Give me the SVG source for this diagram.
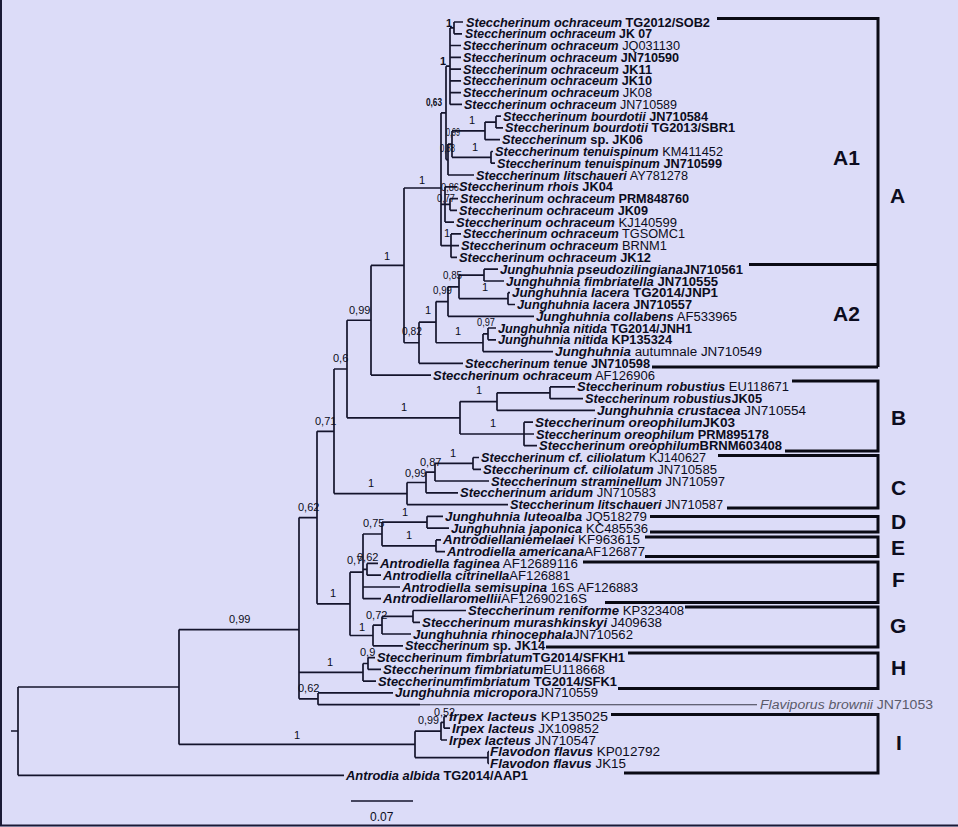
<svg xmlns="http://www.w3.org/2000/svg" width="958" height="827" viewBox="0 0 958 827">
<style>
.bg{fill:#dcdcf8}
.tr{fill:none;stroke:#14142c;stroke-width:1.7}
.fl{fill:none;stroke:#3a3a4a;stroke-width:1.1}
.br{fill:none;stroke:#0a0a14;stroke-width:3}
.fr{fill:none;stroke:#1a1a36;stroke-width:2}
text{font-family:"Liberation Sans",Arial,sans-serif;fill:#0c0c20}
.t{font-size:12px}
.i{font-style:italic;font-weight:bold}
.b{font-weight:bold}
.n{font-weight:normal;font-style:normal}
.g{fill:#5a5a6a}
.gi{font-style:italic;fill:#5a5a6a}
.s{font-size:11px}
.sb{font-size:11px;font-weight:bold}
.cl{font-size:21px;font-weight:bold}
.sc{font-size:12px}
</style>
<rect class="bg" x="0" y="0" width="958" height="827"/>
<path class="fr" d="M1,0 V826 M0,825.5 H958"/>
<g id="connectors">
<path class="tr" d="M11,731 H18 M18,687 V775.3 M18,775.3 H344 M18,687 H179 M179,629.6 V744.4 M179,629.6 H299
M179,744.4 H415 M415,731.2 V757.6 M415,731.2 H441 M441,722.3 V740 M441,740 H447 M441,722.3 H444 M444,716.4 V728.2 M444,716.4 H447 M444,728.2 H450 M415,757.6 H488 M488,751.7 V763.5 M488,751.7 H489 M488,763.5 H489
M299,517.6 V698.8 M299,517.6 H317 M317,431.3 V603.85 M317,431.3 H334 M334,369 V493.55 M334,369 H347 M347,320.25 V417.8 M347,320.25 H371
M371,265.4 V375.1 M371,265.4 H404 M371,375.1 H431 M404,188 V342.75
M404,188 H441 M441,112.9 V245.65 M441,112.9 H446 M446,66.2 V159.6 M446,66.2 H450 M450,27.9 V104.4 M450,27.9 H454 M454,22 V33.8 M454,22 H463 M454,33.8 H462
M450,45.5 H461 M450,57.3 H461 M450,69.1 H461 M450,80.9 H461 M450,92.6 H461 M450,104.4 H462
M446,159.6 H448 M448,144.1 V175 M448,175 H474 M448,144.1 H452 M452,130.9 V157.35 M452,130.9 H485 M485,122.05 V139.7 M485,139.7 H500 M485,122.05 H496 M496,116.2 V127.9 M496,116.2 H501 M496,127.9 H503 M452,157.35 H491 M491,151.5 V163.2 M491,151.5 H493 M491,163.2 H495
M441,204.45 H445 M445,186.8 V222.1 M445,186.8 H457 M445,222.1 H454 M445,204.45 H450 M450,198.6 V210.3 M450,198.6 H458 M450,210.3 H457
M441,245.65 H451 M451,233.9 V257.4 M451,233.9 H461 M451,245.6 H459 M451,257.4 H457
M404,342.75 H419 M419,322.2 V363.3 M419,363.3 H463 M419,322.2 H436 M436,301.6 V342.75 M436,301.6 H448 M448,286.85 V316.3 M448,316.3 H534 M448,286.85 H459 M459,275.1 V298.6 M459,275.1 H484 M484,269.2 V281 M484,269.2 H498 M484,281 H504 M459,298.6 H508 M508,292.7 V304.5 M508,292.7 H510 M508,304.5 H515
M436,342.75 H483 M483,333.9 V351.6 M483,351.6 H553 M483,333.9 H488 M488,328 V339.8 M488,328 H496 M488,339.8 H496
M347,417.8 H460 M460,401.6 V434 M460,401.6 H497 M497,392.8 V410.4 M497,410.4 H595 M497,392.8 H550 M550,386.9 V398.7 M550,386.9 H575 M550,398.7 H583 M460,434 H524 M524,422.2 V445.7 M524,422.2 H533 M524,434 H534 M524,445.7 H537
M334,493.55 H407 M407,482.5 V504.6 M407,504.6 H508 M407,482.5 H426 M426,472.2 V492.8 M426,492.8 H458 M426,472.2 H435 M435,463.4 V481 M435,481 H489 M435,463.4 H473 M473,457.5 V469.3 M473,457.5 H479 M473,469.3 H481
M317,603.85 H350 M350,572.2 V635.5 M350,572.2 H363 M363,534 V598.7 M363,534 H382 M382,522.2 V545.8 M382,522.2 H427 M427,516.3 V528.1 M427,516.3 H443 M427,528.1 H449 M382,545.8 H436 M436,539.9 V551.7 M436,539.9 H441 M436,551.7 H445
M363,569.3 H367 M367,563.4 V575.2 M367,563.4 H378 M367,575.2 H381 M363,587 H400 M363,598.7 H381
M350,635.5 H373 M373,625.2 V645.8 M373,645.8 H403 M373,625.2 H382 M382,616.4 V634 M382,634 H411 M382,616.4 H413 M413,610.5 V622.3 M413,610.5 H466 M413,622.3 H420
M299,672.3 H363 M363,663.5 V681.1 M363,681.1 H376 M363,663.5 H368 M368,657.6 V669.4 M368,657.6 H375 M368,669.4 H381
M299,698.8 H318 M318,692.9 V704.7 M318,692.9 H393 M318,704.7 H420
M351,801 H413"/>
<path class="fl" d="M420,704.7 H757"/>
<path class="br" d="M717,18.5 H878 V367 M749,264.5 H878 M652,367 H878
M792,381 H878 V451 H785
M718,455.5 H878 V508 H727
M650,516.5 H878 V532 H650
M645,537 H878 V556.5 H645
M583,562 H878 V602.5 H605
M685,607 H878 V647 H546
M628,653 H878 V688.5 H618
M611,714.5 H878 V773 H624"/>
</g>
<g id="support" xml:space="preserve">
<text class="sb" x="446" y="27">1</text>
<text class="sb" x="440" y="65">1</text>
<text class="sb" x="426" y="106" textLength="16" lengthAdjust="spacingAndGlyphs">0,63</text>
<text class="s" x="446" y="136" textLength="14" lengthAdjust="spacingAndGlyphs">0,99</text>
<text class="s" x="440" y="152" textLength="15" lengthAdjust="spacingAndGlyphs">0,88</text>
<text class="s" x="469" y="124">1</text>
<text class="s" x="472" y="151">1</text>
<text class="s" x="419" y="184">1</text>
<text class="s" x="441" y="191" textLength="18" lengthAdjust="spacingAndGlyphs">0,86</text>
<text class="s" x="437" y="202" textLength="18" lengthAdjust="spacingAndGlyphs">0,77</text>
<text class="s" x="444" y="237">1</text>
<text class="s" x="384" y="260">1</text>
<text class="s" x="443" y="279" textLength="19" lengthAdjust="spacingAndGlyphs">0,85</text>
<text class="s" x="433" y="294" textLength="19" lengthAdjust="spacingAndGlyphs">0,99</text>
<text class="s" x="482" y="291">1</text>
<text class="s" x="425" y="314">1</text>
<text class="s" x="477" y="326" textLength="18" lengthAdjust="spacingAndGlyphs">0,97</text>
<text class="s" x="455" y="335">1</text>
<text class="s" x="402" y="335" textLength="20" lengthAdjust="spacingAndGlyphs">0,82</text>
<text class="s" x="349" y="314">0,99</text>
<text class="s" x="333" y="362">0,6</text>
<text class="s" x="476" y="394">1</text>
<text class="s" x="401" y="411">1</text>
<text class="s" x="490" y="427">1</text>
<text class="s" x="315" y="425">0,71</text>
<text class="s" x="450" y="457">1</text>
<text class="s" x="420" y="466">0,87</text>
<text class="s" x="405" y="477">0,99</text>
<text class="s" x="368" y="487">1</text>
<text class="s" x="298" y="511">0,62</text>
<text class="s" x="402" y="516">1</text>
<text class="s" x="363" y="527">0,75</text>
<text class="s" x="406" y="539">1</text>
<text class="s" x="347" y="564">0,7</text>
<text class="s" x="357" y="561">0,62</text>
<text class="s" x="330" y="597">1</text>
<text class="s" x="366" y="619">0,72</text>
<text class="s" x="359" y="631">1</text>
<text class="s" x="360" y="656">0,9</text>
<text class="s" x="327" y="666">1</text>
<text class="s" x="298" y="692">0,62</text>
<text class="s" x="229" y="623">0,99</text>
<text class="s" x="294" y="739">1</text>
<text class="s" x="418" y="724" textLength="21" lengthAdjust="spacingAndGlyphs">0,99</text>
<text class="s" x="434" y="716" textLength="21" lengthAdjust="spacingAndGlyphs">0,52</text>
</g>
<g id="taxa" xml:space="preserve">
<g id="t01"><text class="t" x="466" y="26.5" textLength="244" lengthAdjust="spacingAndGlyphs"><tspan class="i">Steccherinum ochraceum</tspan><tspan class="b"> TG2012/SOB2</tspan></text></g>
<g id="t02"><text class="t" x="465" y="38.3" textLength="187" lengthAdjust="spacingAndGlyphs"><tspan class="i">Steccherinum ochraceum</tspan><tspan class="b"> JK 07</tspan></text></g>
<g id="t03"><text class="t" x="463" y="50" textLength="217" lengthAdjust="spacingAndGlyphs"><tspan class="i">Steccherinum ochraceum</tspan><tspan class="n"> JQ031130</tspan></text></g>
<g id="t04"><text class="t" x="463" y="61.8" textLength="216" lengthAdjust="spacingAndGlyphs"><tspan class="i">Steccherinum ochraceum</tspan><tspan class="b"> JN710590</tspan></text></g>
<g id="t05"><text class="t" x="463" y="73.6" textLength="189" lengthAdjust="spacingAndGlyphs"><tspan class="i">Steccherinum ochraceum</tspan><tspan class="b"> JK11</tspan></text></g>
<g id="t06"><text class="t" x="463" y="85.4" textLength="189" lengthAdjust="spacingAndGlyphs"><tspan class="i">Steccherinum ochraceum</tspan><tspan class="b"> JK10</tspan></text></g>
<g id="t07"><text class="t" x="463" y="97.1" textLength="189" lengthAdjust="spacingAndGlyphs"><tspan class="i">Steccherinum ochraceum</tspan><tspan class="n"> JK08</tspan></text></g>
<g id="t08"><text class="t" x="464" y="108.9" textLength="213" lengthAdjust="spacingAndGlyphs"><tspan class="i">Steccherinum ochraceum</tspan><tspan class="n"> JN710589</tspan></text></g>
<g id="t09"><text class="t" x="503" y="120.7" textLength="205" lengthAdjust="spacingAndGlyphs"><tspan class="i">Steccherinum bourdotii</tspan><tspan class="b"> JN710584</tspan></text></g>
<g id="t10"><text class="t" x="505" y="132.4" textLength="230" lengthAdjust="spacingAndGlyphs"><tspan class="i">Steccherinum bourdotii</tspan><tspan class="b"> TG2013/SBR1</tspan></text></g>
<g id="t11"><text class="t" x="502" y="144.2" textLength="141" lengthAdjust="spacingAndGlyphs"><tspan class="i">Steccherinum</tspan><tspan class="b"> sp. JK06</tspan></text></g>
<g id="t12"><text class="t" x="495" y="156" textLength="228" lengthAdjust="spacingAndGlyphs"><tspan class="i">Steccherinum tenuispinum</tspan><tspan class="n"> KM411452</tspan></text></g>
<g id="t13"><text class="t" x="497" y="167.7" textLength="225" lengthAdjust="spacingAndGlyphs"><tspan class="i">Steccherinum tenuispinum</tspan><tspan class="b"> JN710599</tspan></text></g>
<g id="t14"><text class="t" x="476" y="179.5" textLength="212" lengthAdjust="spacingAndGlyphs"><tspan class="i">Steccherinum litschaueri</tspan><tspan class="n"> AY781278</tspan></text></g>
<g id="t15"><text class="t" x="459" y="191.3" textLength="154" lengthAdjust="spacingAndGlyphs"><tspan class="i">Steccherinum rhois</tspan><tspan class="b"> JK04</tspan></text></g>
<g id="t16"><text class="t" x="460" y="203.1" textLength="229" lengthAdjust="spacingAndGlyphs"><tspan class="i">Steccherinum ochraceum</tspan><tspan class="b"> PRM848760</tspan></text></g>
<g id="t17"><text class="t" x="459" y="214.8" textLength="189" lengthAdjust="spacingAndGlyphs"><tspan class="i">Steccherinum ochraceum</tspan><tspan class="b"> JK09</tspan></text></g>
<g id="t18"><text class="t" x="456" y="226.6" textLength="221" lengthAdjust="spacingAndGlyphs"><tspan class="i">Steccherinum ochraceum</tspan><tspan class="n"> KJ140599</tspan></text></g>
<g id="t19"><text class="t" x="463" y="238.4" textLength="222" lengthAdjust="spacingAndGlyphs"><tspan class="i">Steccherinum ochraceum</tspan><tspan class="n">  TGSOMC1</tspan></text></g>
<g id="t20"><text class="t" x="461" y="250.1" textLength="206" lengthAdjust="spacingAndGlyphs"><tspan class="i">Steccherinum ochraceum</tspan><tspan class="n"> BRNM1</tspan></text></g>
<g id="t21"><text class="t" x="459" y="261.9" textLength="192" lengthAdjust="spacingAndGlyphs"><tspan class="i">Steccherinum ochraceum</tspan><tspan class="b"> JK12</tspan></text></g>
<g id="t22"><text class="t" x="500" y="273.7" textLength="243" lengthAdjust="spacingAndGlyphs"><tspan class="i">Junghuhnia pseudozilingiana</tspan><tspan class="b">JN710561</tspan></text></g>
<g id="t23"><text class="t" x="506" y="285.5" textLength="212" lengthAdjust="spacingAndGlyphs"><tspan class="i">Junghuhnia fimbriatella</tspan><tspan class="b"> JN710555</tspan></text></g>
<g id="t24"><text class="t" x="512" y="297.2" textLength="206" lengthAdjust="spacingAndGlyphs"><tspan class="i">Junghuhnia lacera</tspan><tspan class="b"> TG2014/JNP1</tspan></text></g>
<g id="t25"><text class="t" x="517" y="309" textLength="175" lengthAdjust="spacingAndGlyphs"><tspan class="i">Junghuhnia lacera</tspan><tspan class="b"> JN710557</tspan></text></g>
<g id="t26"><text class="t" x="536" y="320.8" textLength="201" lengthAdjust="spacingAndGlyphs"><tspan class="i">Junghuhnia collabens</tspan><tspan class="n">  AF533965</tspan></text></g>
<g id="t27"><text class="t" x="498" y="332.5" textLength="194" lengthAdjust="spacingAndGlyphs"><tspan class="i">Junghuhnia nitida</tspan><tspan class="b"> TG2014/JNH1</tspan></text></g>
<g id="t28"><text class="t" x="498" y="344.3" textLength="174" lengthAdjust="spacingAndGlyphs"><tspan class="i">Junghuhnia nitida</tspan><tspan class="b">  KP135324</tspan></text></g>
<g id="t29"><text class="t" x="555" y="356.1" textLength="207" lengthAdjust="spacingAndGlyphs"><tspan class="i">Junghuhnia</tspan><tspan class="n"> autumnale  JN710549</tspan></text></g>
<g id="t30"><text class="t" x="465" y="367.8" textLength="185" lengthAdjust="spacingAndGlyphs"><tspan class="i">Steccherinum tenue</tspan><tspan class="b">  JN710598</tspan></text></g>
<g id="t31"><text class="t" x="433" y="379.6" textLength="222" lengthAdjust="spacingAndGlyphs"><tspan class="i">Steccherinum ochraceum</tspan><tspan class="n">  AF126906</tspan></text></g>
<g id="t32"><text class="t" x="577" y="391.4" textLength="212" lengthAdjust="spacingAndGlyphs"><tspan class="i">Steccherinum robustius</tspan><tspan class="n"> EU118671</tspan></text></g>
<g id="t33"><text class="t" x="585" y="403.2" textLength="177" lengthAdjust="spacingAndGlyphs"><tspan class="i">Steccherinum robustius</tspan><tspan class="b">JK05</tspan></text></g>
<g id="t34"><text class="t" x="597" y="414.9" textLength="209" lengthAdjust="spacingAndGlyphs"><tspan class="i">Junghuhnia crustacea</tspan><tspan class="n">  JN710554</tspan></text></g>
<g id="t35"><text class="t" x="535" y="426.7" textLength="200" lengthAdjust="spacingAndGlyphs"><tspan class="i">Steccherinum oreophilum</tspan><tspan class="b">JK03</tspan></text></g>
<g id="t36"><text class="t" x="536" y="438.5" textLength="233" lengthAdjust="spacingAndGlyphs"><tspan class="i">Steccherinum oreophilum</tspan><tspan class="b"> PRM895178</tspan></text></g>
<g id="t37"><text class="t" x="539" y="450.2" textLength="243" lengthAdjust="spacingAndGlyphs"><tspan class="i">Steccherinum oreophilum</tspan><tspan class="b">BRNM603408</tspan></text></g>
<g id="t38"><text class="t" x="481" y="462" textLength="225" lengthAdjust="spacingAndGlyphs"><tspan class="i">Steccherinum cf. ciliolatum</tspan><tspan class="n"> KJ140627</tspan></text></g>
<g id="t39"><text class="t" x="483" y="473.8" textLength="234" lengthAdjust="spacingAndGlyphs"><tspan class="i">Steccherinum cf. ciliolatum</tspan><tspan class="n"> JN710585</tspan></text></g>
<g id="t40"><text class="t" x="491" y="485.5" textLength="234" lengthAdjust="spacingAndGlyphs"><tspan class="i">Steccherinum straminellum</tspan><tspan class="n"> JN710597</tspan></text></g>
<g id="t41"><text class="t" x="460" y="497.3" textLength="196" lengthAdjust="spacingAndGlyphs"><tspan class="i">Steccherinum aridum</tspan><tspan class="n"> JN710583</tspan></text></g>
<g id="t42"><text class="t" x="510" y="509.1" textLength="213" lengthAdjust="spacingAndGlyphs"><tspan class="i">Steccherinum litschaueri</tspan><tspan class="n"> JN710587</tspan></text></g>
<g id="t43"><text class="t" x="445" y="520.8" textLength="202" lengthAdjust="spacingAndGlyphs"><tspan class="i">Junghuhnia luteoalba</tspan><tspan class="n">  JQ518279</tspan></text></g>
<g id="t44"><text class="t" x="451" y="532.6" textLength="197" lengthAdjust="spacingAndGlyphs"><tspan class="i">Junghuhnia japonica</tspan><tspan class="n">  KC485536</tspan></text></g>
<g id="t45"><text class="t" x="443" y="544.4" textLength="197" lengthAdjust="spacingAndGlyphs"><tspan class="i">Antrodiellaniemelaei</tspan><tspan class="n">  KF963615</tspan></text></g>
<g id="t46"><text class="t" x="447" y="556.2" textLength="198" lengthAdjust="spacingAndGlyphs"><tspan class="i">Antrodiella americana</tspan><tspan class="n">AF126877</tspan></text></g>
<g id="t47"><text class="t" x="380" y="567.9" textLength="198" lengthAdjust="spacingAndGlyphs"><tspan class="i">Antrodiella faginea</tspan><tspan class="n">  AF12689116</tspan></text></g>
<g id="t48"><text class="t" x="383" y="579.7" textLength="187" lengthAdjust="spacingAndGlyphs"><tspan class="i">Antrodiella citrinella</tspan><tspan class="n">AF126881</tspan></text></g>
<g id="t49"><text class="t" x="402" y="591.5" textLength="236" lengthAdjust="spacingAndGlyphs"><tspan class="i">Antrodiella semisupina</tspan><tspan class="n">  16S  AF126883</tspan></text></g>
<g id="t50"><text class="t" x="383" y="603.2" textLength="204" lengthAdjust="spacingAndGlyphs"><tspan class="i">Antrodiellaromellii</tspan><tspan class="n">AF12690216S</tspan></text></g>
<g id="t51"><text class="t" x="468" y="615" textLength="216" lengthAdjust="spacingAndGlyphs"><tspan class="i">Steccherinum reniforme</tspan><tspan class="n">  KP323408</tspan></text></g>
<g id="t52"><text class="t" x="422" y="626.8" textLength="240" lengthAdjust="spacingAndGlyphs"><tspan class="i">Steccherinum murashkinskyi</tspan><tspan class="n">     J409638</tspan></text></g>
<g id="t53"><text class="t" x="413" y="638.5" textLength="220" lengthAdjust="spacingAndGlyphs"><tspan class="i">Junghuhnia  rhinocephala</tspan><tspan class="n">JN710562</tspan></text></g>
<g id="t54"><text class="t" x="405" y="650.3" textLength="140" lengthAdjust="spacingAndGlyphs"><tspan class="i">Steccherinum</tspan><tspan class="b"> sp. JK14</tspan></text></g>
<g id="t55"><text class="t" x="377" y="662.1" textLength="248" lengthAdjust="spacingAndGlyphs"><tspan class="i">Steccherinum fimbriatum</tspan><tspan class="b">TG2014/SFKH1</tspan></text></g>
<g id="t56"><text class="t" x="383" y="673.9" textLength="222" lengthAdjust="spacingAndGlyphs"><tspan class="i">Steccherinum fimbriatum</tspan><tspan class="n">EU118668</tspan></text></g>
<g id="t57"><text class="t" x="378" y="685.6" textLength="239" lengthAdjust="spacingAndGlyphs"><tspan class="i">Steccherinumfimbriatum</tspan><tspan class="b"> TG2014/SFK1</tspan></text></g>
<g id="t58"><text class="t" x="395" y="697.4" textLength="203" lengthAdjust="spacingAndGlyphs"><tspan class="i">Junghuhnia micropora</tspan><tspan class="n">JN710559</tspan></text></g>
<g id="t59"><text class="t" x="760" y="709.2" textLength="173" lengthAdjust="spacingAndGlyphs"><tspan class="gi">Flaviporus brownii</tspan><tspan class="g"> JN71053</tspan></text></g>
<g id="t60"><text class="t" x="449" y="720.9" textLength="159" lengthAdjust="spacingAndGlyphs"><tspan class="i">Irpex lacteus</tspan><tspan class="n">  KP135025</tspan></text></g>
<g id="t61"><text class="t" x="452" y="732.7" textLength="147" lengthAdjust="spacingAndGlyphs"><tspan class="i">Irpex lacteus</tspan><tspan class="n">  JX109852</tspan></text></g>
<g id="t62"><text class="t" x="449" y="744.5" textLength="147" lengthAdjust="spacingAndGlyphs"><tspan class="i">Irpex lacteus</tspan><tspan class="n">  JN710547</tspan></text></g>
<g id="t63"><text class="t" x="490" y="756.2" textLength="170" lengthAdjust="spacingAndGlyphs"><tspan class="i">Flavodon flavus</tspan><tspan class="n">  KP012792</tspan></text></g>
<g id="t64"><text class="t" x="490" y="768" textLength="136" lengthAdjust="spacingAndGlyphs"><tspan class="i">Flavodon flavus</tspan><tspan class="n">  JK15</tspan></text></g>
<g id="t65"><text class="t" x="346" y="779.8" textLength="182" lengthAdjust="spacingAndGlyphs"><tspan class="i">Antrodia albida</tspan><tspan class="b"> TG2014/AAP1</tspan></text></g>
</g>
<g id="clades">
<text class="cl" x="833" y="165">A1</text>
<text class="cl" x="890" y="203">A</text>
<text class="cl" x="833" y="321">A2</text>
<text class="cl" x="891" y="425">B</text>
<text class="cl" x="891" y="495">C</text>
<text class="cl" x="891" y="529">D</text>
<text class="cl" x="891" y="555">E</text>
<text class="cl" x="892" y="587">F</text>
<text class="cl" x="890" y="633">G</text>
<text class="cl" x="891" y="675">H</text>
<text class="cl" x="896" y="750">I</text>
</g>
<g id="scale">
<text class="sc" x="370" y="821">0.07</text>
</g>
</svg>
